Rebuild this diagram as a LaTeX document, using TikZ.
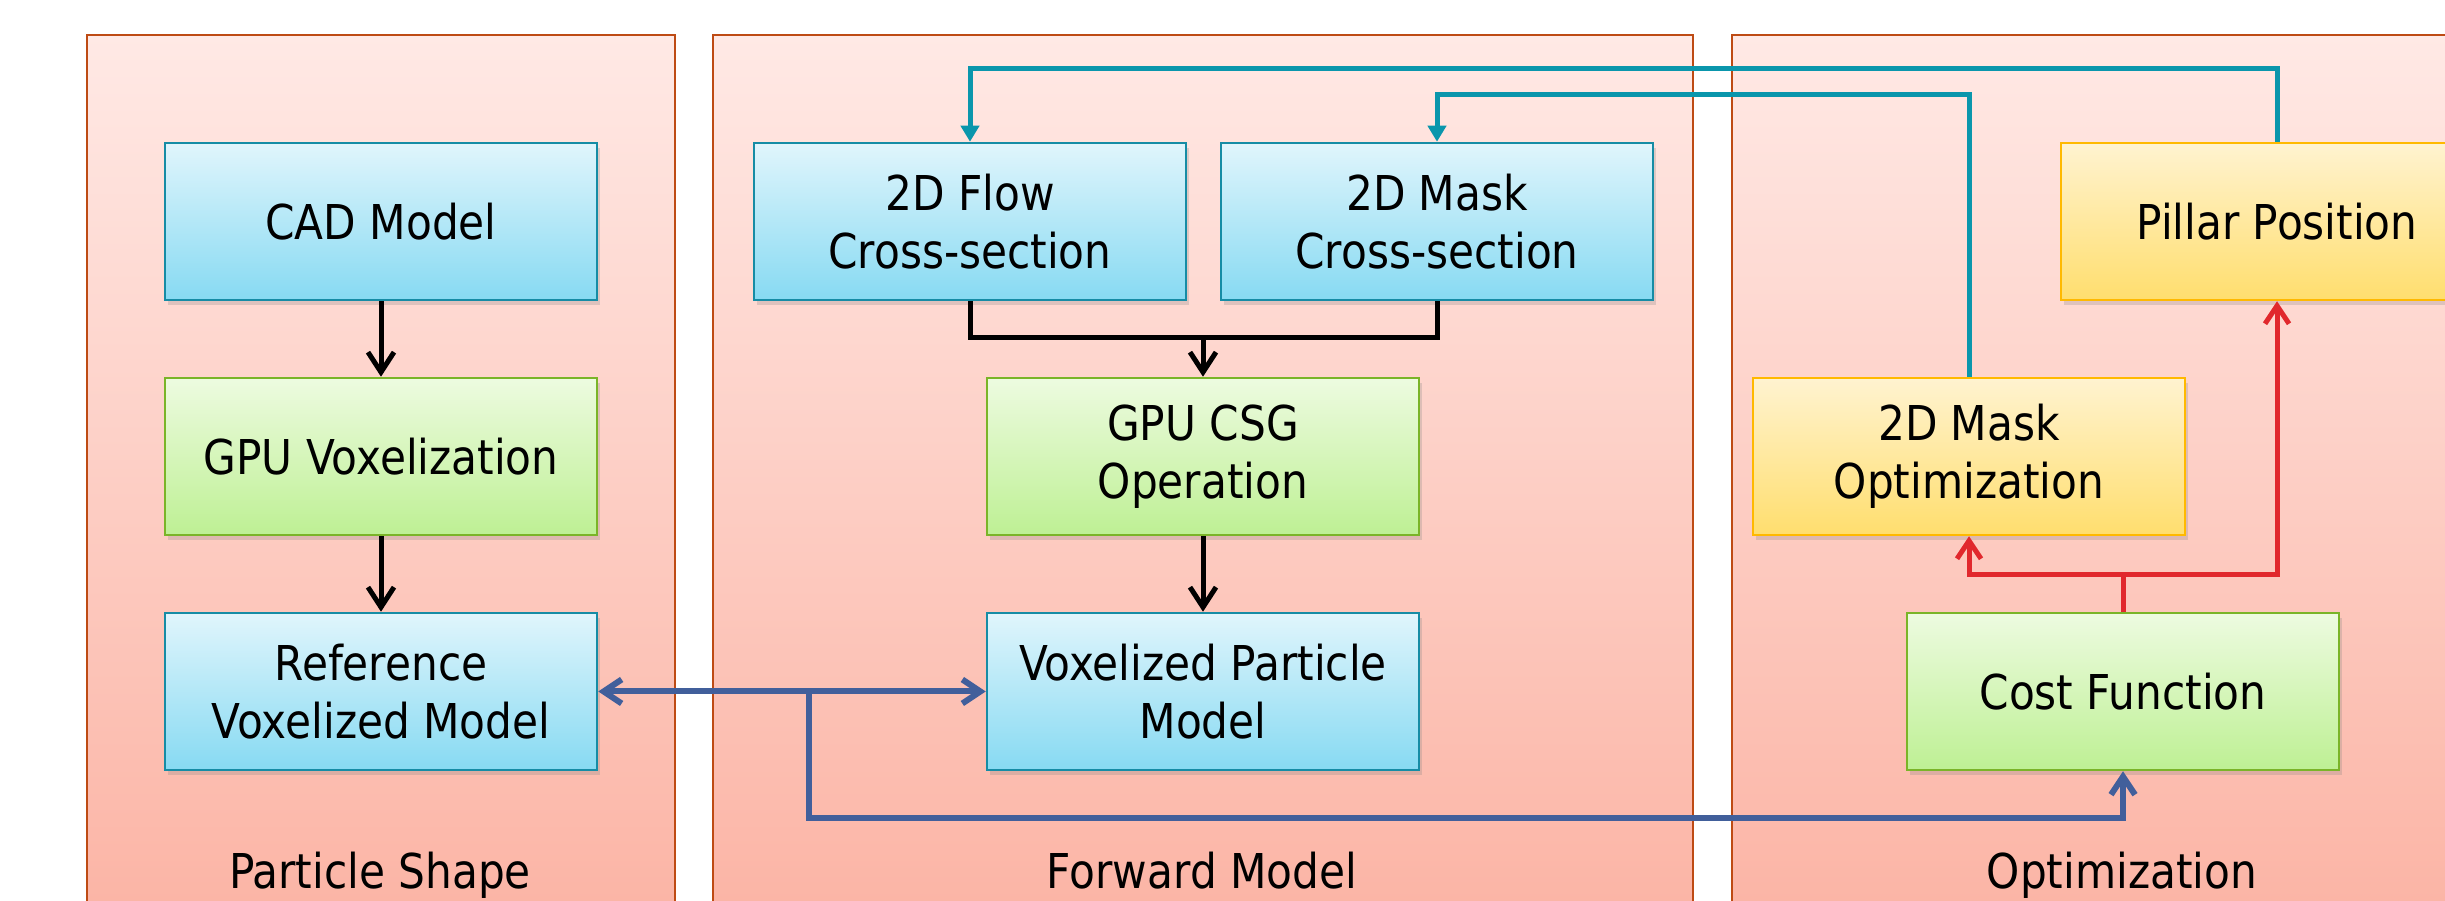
\documentclass[tikz,border=0pt]{standalone}
\usepackage{fontspec}
\setmainfont{DejaVu Sans}[FakeStretch=0.88]
\usetikzlibrary{arrows.meta,shadows}
\definecolor{ptop}{RGB}{255,233,229}
\definecolor{pbot}{RGB}{251,176,160}
\definecolor{pborder}{RGB}{190,75,20}
\definecolor{btop}{RGB}{224,245,252}
\definecolor{bbot}{RGB}{135,218,242}
\definecolor{bborder}{RGB}{22,140,165}
\definecolor{gtop}{RGB}{237,251,224}
\definecolor{gbot}{RGB}{190,240,148}
\definecolor{gborder}{RGB}{122,180,40}
\definecolor{ytop}{RGB}{255,243,208}
\definecolor{ybot}{RGB}{255,222,110}
\definecolor{yborder}{RGB}{255,185,0}
\definecolor{tealc}{RGB}{10,150,172}
\definecolor{bluec}{RGB}{65,95,155}
\definecolor{redc}{RGB}{225,40,45}
\begin{document}
\begin{tikzpicture}[x=1pt,y=1pt,
  panel/.style={draw=pborder, line width=2pt, top color=ptop, bottom color=pbot,
    anchor=north west, inner sep=0pt, minimum height=950pt},
  ptitle/.style={anchor=base, font=\fontsize{48}{58}\selectfont},
  box/.style={line width=2.5pt, minimum width=432pt, minimum height=157pt,
    align=center, inner sep=0pt, font=\fontsize{48}{58}\selectfont,
    drop shadow={opacity=0.25, shadow xshift=3pt, shadow yshift=-5pt}},
  bluebox/.style={box, draw=bborder, top color=btop, bottom color=bbot},
  greenbox/.style={box, draw=gborder, top color=gtop, bottom color=gbot},
  yellowbox/.style={box, draw=yborder, top color=ytop, bottom color=ybot},
  blk/.style={draw=black, line width=5pt},
  tl/.style={draw=tealc, line width=5pt, -{Triangle[length=16pt,width=18pt]}},
  bl/.style={draw=bluec, line width=6pt},
  rd/.style={draw=redc, line width=5pt, -{Straight Barb[length=18pt,width=24pt]}},
  barb/.style={-{Straight Barb[length=20pt,width=26pt]}}
]
\useasboundingbox (0,0) rectangle (2445,901);
\clip (0,0) rectangle (2445,901);
\fill[white] (0,0) rectangle (2445,901);

% panels
\node[panel, minimum width=588pt] (p1) at (86,867) {};
\node[panel, minimum width=980pt] (p2) at (712,867) {};
\node[panel, minimum width=782pt] (p3) at (1731,867) {};
\node[ptitle] (t1) at (380,12) {Particle Shape};
\node[ptitle] (t2) at (1202,12) {Forward Model};
\node[ptitle] (t3) at (2122,12) {Optimization};

% boxes
\node[bluebox] (cad) at (381,679.5) {CAD Model};
\node[greenbox] (gvox) at (381,444.5) {GPU Voxelization};
\node[bluebox] (ref) at (381,209.5) {Reference\\Voxelized Model};
\node[bluebox] (flow) at (970,679.5) {2D Flow\\Cross-section};
\node[bluebox] (mask) at (1437,679.5) {2D Mask\\Cross-section};
\node[greenbox] (csg) at (1203,444.5) {GPU CSG\\Operation};
\node[bluebox] (vpm) at (1203,209.5) {Voxelized Particle\\Model};
\node[yellowbox] (pillar) at (2277,679.5) {Pillar Position};
\node[yellowbox] (mopt) at (1969,444.5) {2D Mask\\Optimization};
\node[greenbox] (cost) at (2123,209.5) {Cost Function};

% black connectors
\draw[blk, barb] (cad) -- (gvox);
\draw[blk, barb] (gvox) -- (ref);
\coordinate (jn) at (1203,563);
\draw[blk] (flow.south) |- (jn) -| (mask.south);
\draw[blk, barb] (jn) -- (csg);
\draw[blk, barb] (csg) -- (vpm);

% blue connectors
\draw[bl, {Straight Barb[length=18pt,width=24pt]}-{Straight Barb[length=18pt,width=24pt]}] (ref.east) -- (vpm.west);
\coordinate (bb) at (809,209.5);
\coordinate (bc) at (809,83);
\draw[bl, -{Straight Barb[length=18pt,width=24pt]}] (bb) -- (bc) -| (cost.south);

% red connectors
\coordinate (rj) at (2123,326);
\draw[rd] (cost.north) -- (rj) -| (mopt.south);
\draw[rd] (rj) -| (pillar.south);

% teal connectors
\coordinate (ta) at (1700,832);
\coordinate (tb) at (1700,806);
\draw[tl] (pillar.north) |- (ta) -| (flow.north);
\draw[tl] (mopt.north) |- (tb) -| (mask.north);
\end{tikzpicture}
\end{document}
